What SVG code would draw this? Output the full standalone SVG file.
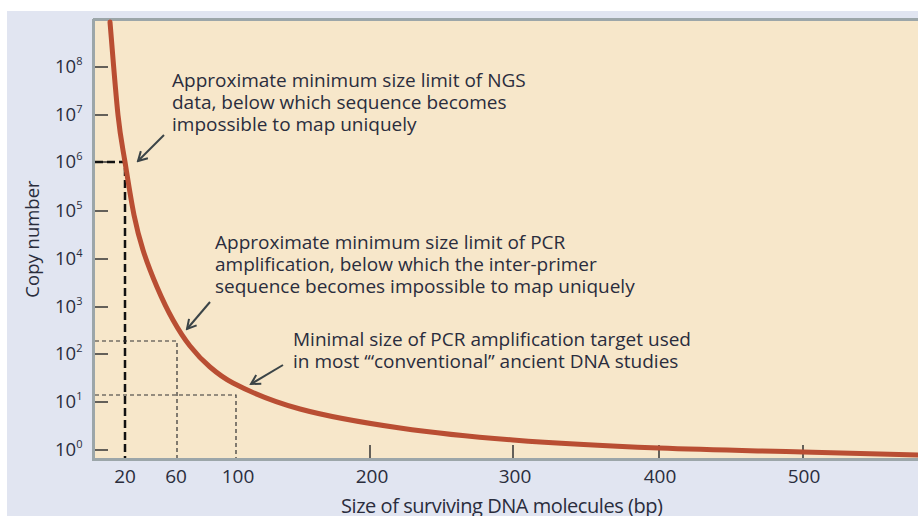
<svg xmlns="http://www.w3.org/2000/svg" width="918" height="516" viewBox="0 0 918 516">
<defs>
<style>
text{font-family:"Open Sans","Noto Sans","Liberation Sans",sans-serif;fill:#2a2d3d}
.ann{font-size:19px}
.tick{stroke:#333;stroke-width:1.5}
.lbl{font-size:18.5px}
.num{font-size:19px}
.sup{font-size:11px}
.arr{stroke:#3b4447;stroke-width:2;fill:none;marker-end:url(#ah)}
.thick{stroke:#111;stroke-width:2.5;stroke-dasharray:8 4;fill:none}
.thin{stroke:#333;stroke-width:1.2;stroke-dasharray:4 3;fill:none}
</style>
<marker id="ah" viewBox="0 0 12 12" refX="10" refY="6" markerWidth="12" markerHeight="12" markerUnits="userSpaceOnUse" orient="auto">
<polyline points="1,1 10,6 1,11" fill="none" stroke="#3b4447" stroke-width="2"/>
</marker>
</defs>
<rect width="918" height="516" fill="#fff"/>
<rect x="7" y="11" width="911" height="505" fill="#e1e5f1"/>
<rect x="93" y="19" width="825" height="440" fill="#f7e7ca"/>
<path d="M93,19.5 H918 M93.5,19 V460 M92,459.5 H918" stroke="#9ca6a9" stroke-width="3" fill="none"/>

<g id="y-axis">
<g class="tick">
<line x1="95" y1="67" x2="108" y2="67"/><line x1="95" y1="115" x2="108" y2="115"/>
<line x1="95" y1="162" x2="108" y2="162"/><line x1="95" y1="211" x2="108" y2="211"/>
<line x1="95" y1="259" x2="108" y2="259"/><line x1="95" y1="307" x2="108" y2="307"/>
<line x1="95" y1="354" x2="108" y2="354"/><line x1="95" y1="402" x2="108" y2="402"/>
<line x1="95" y1="450" x2="108" y2="450"/>
</g>
<g class="lbl">
<text x="55" y="73">10<tspan class="sup" dy="-8">8</tspan></text>
<text x="55" y="121">10<tspan class="sup" dy="-8">7</tspan></text>
<text x="55" y="168">10<tspan class="sup" dy="-8">6</tspan></text>
<text x="55" y="217">10<tspan class="sup" dy="-8">5</tspan></text>
<text x="55" y="265">10<tspan class="sup" dy="-8">4</tspan></text>
<text x="55" y="313">10<tspan class="sup" dy="-8">3</tspan></text>
<text x="55" y="360">10<tspan class="sup" dy="-8">2</tspan></text>
<text x="55" y="408">10<tspan class="sup" dy="-8">1</tspan></text>
<text x="55" y="456">10<tspan class="sup" dy="-8">0</tspan></text>
</g>
<text class="lbl" transform="translate(39,239) rotate(-90)" text-anchor="middle">Copy number</text>
</g>

<g id="x-axis">
<g class="tick">
<line x1="370" y1="445" x2="370" y2="458"/><line x1="513" y1="445" x2="513" y2="458"/>
<line x1="659" y1="445" x2="659" y2="458"/><line x1="803" y1="445" x2="803" y2="458"/>
</g>
<g class="num" text-anchor="middle">
<text x="125" y="483">20</text><text x="176" y="483">60</text><text x="238" y="483">100</text>
<text x="372" y="483">200</text><text x="515" y="483">300</text><text x="660" y="483">400</text><text x="804" y="483">500</text>
</g>
<text x="341" y="513" font-size="20" textLength="322" lengthAdjust="spacing">Size of surviving DNA molecules (bp)</text>
</g>

<g id="guides">
<path class="thick" d="M95,162 H125 V458"/>
<path class="thin" d="M95,341 H177 V458"/>
<path class="thin" d="M95,395 H236 V458"/>
</g>

<g id="curve">
<path d="M110,22 C111.3,37.5 115.5,91.7 118,115 C120.5,138.3 122.3,145.3 125,162 C127.7,178.7 131,200.3 134,215 C137,229.7 139.2,238 143,250 C146.8,262 152,275.3 157,287 C162,298.7 167.5,310.2 173,320 C178.5,329.8 183.8,338.2 190,346 C196.7,354.5 203.3,361.3 210,367 C217.7,373.6 225.3,379 233,383 C255.3,394.6 277.7,403 300,409 C333.3,418 366.7,423.2 400,428 C437.7,433.5 475.3,437.1 513,440 C561.7,443.8 610.3,446.1 659,448 C707,449.9 755,450.7 803,452 C841.3,453 879.7,454 918,455" fill="none" stroke="#b94e33" stroke-width="5" stroke-linecap="round" stroke-linejoin="round"/>
</g>

<g id="connectors">
<line class="arr" x1="164" y1="135" x2="138" y2="161"/>
<line class="arr" x1="210" y1="302" x2="187" y2="329"/>
<line class="arr" x1="283" y1="365" x2="251" y2="384"/>
</g>

<g id="note-ngs" class="ann">
<text x="172" y="87">Approximate minimum size limit of NGS</text>
<text x="172" y="109">data, below which sequence becomes</text>
<text x="172" y="131">impossible to map uniquely</text>
</g>
<g id="note-pcr" class="ann">
<text x="215" y="249">Approximate minimum size limit of PCR</text>
<text x="215" y="271">amplification, below which the inter-primer</text>
<text x="215" y="293">sequence becomes impossible to map uniquely</text>
</g>
<g id="note-conv" class="ann">
<text x="293" y="346">Minimal size of PCR amplification target used</text>
<text x="293" y="368">in most ‘“conventional” ancient DNA studies</text>
</g>
</svg>
